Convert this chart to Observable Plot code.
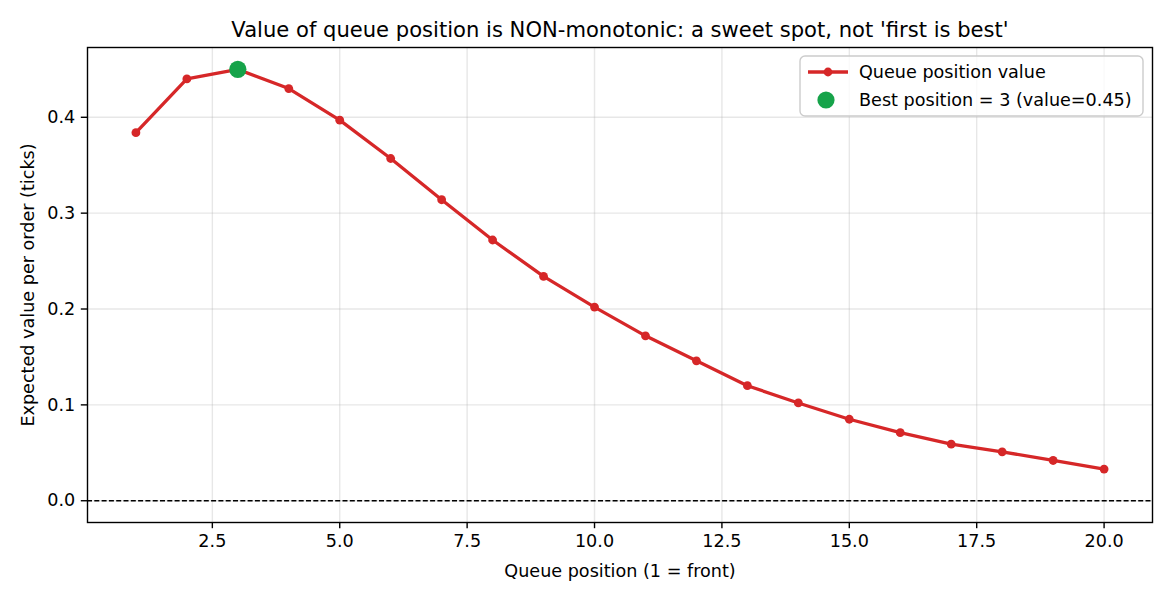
<!DOCTYPE html>
<html>
<head>
<meta charset="utf-8">
<script src="https://cdn.jsdelivr.net/npm/d3@7"></script>
<script src="https://cdn.jsdelivr.net/npm/@observablehq/plot@0.6"></script>
<style>
  html, body { margin: 0; padding: 0; background: white; }
  svg { display: block; }
</style>
</head>
<body>
<div id="chart"></div>
<script>
const positions = [1,2,3,4,5,6,7,8,9,10,11,12,13,14,15,16,17,18,19,20];
const values = [0.384,0.440,0.450,0.430,0.397,0.357,0.314,0.272,0.234,0.202,0.172,0.146,0.120,0.102,0.085,0.071,0.059,0.051,0.042,0.033];
const xTicks = [2.5,5.0,7.5,10.0,12.5,15.0,17.5,20.0];
const yTicks = [0.0,0.1,0.2,0.3,0.4];
const titleText = "Value of queue position is NON-monotonic: a sweet spot, not 'first is best'";
const xLabel = "Queue position (1 = front)";
const yLabel = "Expected value per order (ticks)";
const seriesLabel = "Queue position value";

const data = positions.map((p, i) => ({pos: p, value: values[i]}));
const bestIdx = values.indexOf(Math.max(...values));
const best = [data[bestIdx]];
const bestLabel = `Best position = ${best[0].pos} (value=${best[0].value.toFixed(2)})`;

const RED = "#d62728";
const GREEN = "#16a34a";
const FONT = "DejaVu Sans, sans-serif";
const FS = 17.6;

const plot = Plot.plot({
  width: 1170,
  height: 598,
  marginTop: 47,
  marginBottom: 76,
  marginLeft: 87,
  marginRight: 18,
  style: {fontFamily: FONT, fontSize: FS + "px", background: "white", color: "black"},
  x: {domain: [0.05, 20.95], label: null},
  y: {domain: [-0.0227, 0.4728], label: null},
  marks: [
    Plot.gridX(xTicks, {stroke: "#b0b0b0", strokeOpacity: 0.3, strokeWidth: 1.4}),
    Plot.gridY(yTicks, {stroke: "#b0b0b0", strokeOpacity: 0.3, strokeWidth: 1.4}),
    Plot.ruleY([0], {stroke: "black", strokeWidth: 1.3, strokeDasharray: "5,2.3"}),
    Plot.line(data, {x: "pos", y: "value", stroke: RED, strokeWidth: 3.3}),
    Plot.dot(data, {x: "pos", y: "value", r: 4.4, fill: RED, stroke: "none"}),
    Plot.dot(best, {x: "pos", y: "value", r: 8.6, fill: GREEN, stroke: "none"}),
    Plot.frame({stroke: "black", strokeWidth: 1.4}),
    Plot.axisX(xTicks, {tickSize: 6.2, tickPadding: 6, strokeWidth: 1.4, tickFormat: d => d.toFixed(1), label: null, fontSize: FS}),
    Plot.axisY(yTicks, {tickSize: 6.2, tickPadding: 6, strokeWidth: 1.4, tickFormat: d => d.toFixed(1), label: null, fontSize: FS}),
    Plot.text([titleText], {frameAnchor: "top", dy: -11, text: d => d, fontSize: 21.1, fill: "black", lineAnchor: "bottom"}),
    Plot.text([xLabel], {frameAnchor: "bottom", dy: 54, text: d => d, fontSize: FS, fill: "black", lineAnchor: "bottom"}),
    Plot.text([yLabel], {frameAnchor: "left", dx: -59, rotate: -90, textAnchor: "middle", text: d => d, fontSize: FS, fill: "black"})
  ]
});

// Legend
const svg = d3.select(plot);
const lg = svg.append("g").attr("font-family", FONT).attr("font-size", FS + "px").attr("text-anchor", "start");
lg.append("rect")
  .attr("x", 800).attr("y", 56).attr("width", 343).attr("height", 60)
  .attr("rx", 5).attr("ry", 5)
  .attr("fill", "white").attr("fill-opacity", 0.8)
  .attr("stroke", "#cccccc").attr("stroke-width", 1.4);
lg.append("line").attr("x1", 808).attr("x2", 848).attr("y1", 72).attr("y2", 72)
  .attr("stroke", RED).attr("stroke-width", 3.3);
lg.append("circle").attr("cx", 828).attr("cy", 72).attr("r", 4.4).attr("fill", RED);
lg.append("text").attr("x", 859).attr("y", 72).attr("dy", "0.35em").attr("fill", "black").text(seriesLabel);
lg.append("circle").attr("cx", 826).attr("cy", 100).attr("r", 8.6).attr("fill", GREEN);
lg.append("text").attr("x", 859).attr("y", 100).attr("dy", "0.35em").attr("fill", "black").text(bestLabel);

document.getElementById("chart").appendChild(plot);
</script>
</body>
</html>
